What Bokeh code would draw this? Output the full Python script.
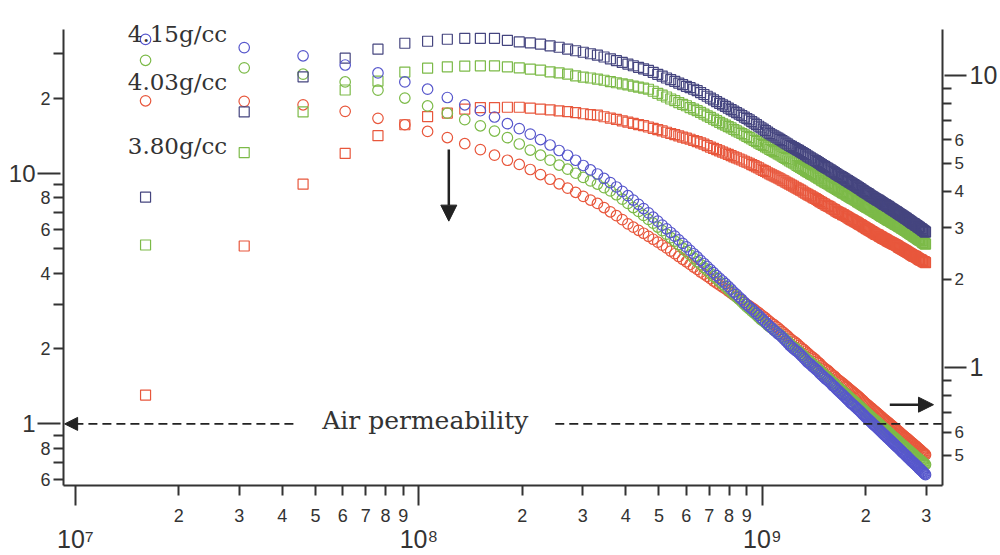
from bokeh.plotting import figure
from bokeh.models import LogAxis, FixedTicker, Label, Arrow, NormalHead, Range1d, LogScale
from bokeh.embed import file_html
from bokeh.resources import INLINE

# ---------------- data ----------------
freq_mhz = [
    16, 31, 46, 61, 76, 91, 106, 121, 136, 151,
    166, 181, 196, 211, 226, 241, 256, 271, 286, 301,
    316, 331, 346, 361, 376, 391, 406, 421, 436, 451,
    466, 481, 496, 511, 526, 541, 556, 571, 586, 601,
    616, 631, 646, 661, 676, 691, 706, 721, 736, 751,
    766, 781, 796, 811, 826, 841, 856, 871, 886, 901,
    916, 931, 946, 961, 976, 991, 1006, 1021, 1036, 1051,
    1066, 1081, 1096, 1111, 1126, 1141, 1156, 1171, 1186, 1201,
    1216, 1231, 1246, 1261, 1276, 1291, 1306, 1321, 1336, 1351,
    1366, 1381, 1396, 1411, 1426, 1441, 1456, 1471, 1486, 1501,
    1516, 1531, 1546, 1561, 1576, 1591, 1606, 1621, 1636, 1651,
    1666, 1681, 1696, 1711, 1726, 1741, 1756, 1771, 1786, 1801,
    1816, 1831, 1846, 1861, 1876, 1891, 1906, 1921, 1936, 1951,
    1966, 1981, 1996, 2011, 2026, 2041, 2056, 2071, 2086, 2101,
    2116, 2131, 2146, 2161, 2176, 2191, 2206, 2221, 2236, 2251,
    2266, 2281, 2296, 2311, 2326, 2341, 2356, 2371, 2386, 2401,
    2416, 2431, 2446, 2461, 2476, 2491, 2506, 2521, 2536, 2551,
    2566, 2581, 2596, 2611, 2626, 2641, 2656, 2671, 2686, 2701,
    2716, 2731, 2746, 2761, 2776, 2791, 2806, 2821, 2836, 2851,
    2866, 2881, 2896, 2911, 2926, 2941, 2956, 2971, 2986]

# circles, left axis (mu')
mu_re_415 = [
    34.3, 31.8, 29.5, 27.1, 25.2, 23.2, 21.7, 20.1, 18.8, 17.8,
    16.8, 15.8, 15.1, 14.36, 13.66, 12.99, 12.35, 11.82, 11.29, 10.76,
    10.33, 9.95, 9.55, 9.19, 8.83, 8.48, 8.15, 7.83, 7.53, 7.24,
    6.96, 6.69, 6.45, 6.22, 6.01, 5.81, 5.62, 5.43, 5.26, 5.09,
    4.93, 4.78, 4.64, 4.50, 4.37, 4.25, 4.13, 4.02, 3.91, 3.81,
    3.72, 3.63, 3.54, 3.45, 3.36, 3.29, 3.21, 3.14, 3.06, 2.99,
    2.93, 2.88, 2.82, 2.76, 2.71, 2.65, 2.60, 2.55, 2.50, 2.45,
    2.41, 2.37, 2.33, 2.29, 2.26, 2.22, 2.18, 2.14, 2.10, 2.06,
    2.03, 2.00, 1.97, 1.95, 1.92, 1.89, 1.86, 1.83, 1.80, 1.77,
    1.75, 1.73, 1.70, 1.68, 1.66, 1.64, 1.62, 1.59, 1.57, 1.55,
    1.53, 1.51, 1.50, 1.48, 1.46, 1.44, 1.42, 1.41, 1.39, 1.37,
    1.355, 1.34, 1.325, 1.31, 1.295, 1.28, 1.265, 1.25, 1.235, 1.22,
    1.208, 1.196, 1.185, 1.173, 1.161, 1.149, 1.138, 1.126, 1.114, 1.102,
    1.09, 1.079, 1.067, 1.057, 1.047, 1.037, 1.028, 1.018, 1.008, 0.998,
    0.989, 0.981, 0.972, 0.964, 0.955, 0.946, 0.938, 0.929, 0.921, 0.912,
    0.905, 0.897, 0.89, 0.882, 0.875, 0.868, 0.86, 0.853, 0.845, 0.838,
    0.832, 0.825, 0.819, 0.812, 0.806, 0.8, 0.793, 0.787, 0.78, 0.774,
    0.768, 0.763, 0.757, 0.751, 0.746, 0.74, 0.734, 0.728, 0.723, 0.717,
    0.712, 0.707, 0.702, 0.697, 0.693, 0.688, 0.683, 0.678, 0.673, 0.668,
    0.663, 0.659, 0.654, 0.65, 0.645, 0.641, 0.636, 0.632, 0.627]

mu_re_403 = [
    28.3, 26.4, 24.9, 23.2, 21.5, 20.0, 18.6, 17.4, 16.4, 15.5,
    14.77, 13.9, 13.11, 12.4, 11.83, 11.3, 10.8, 10.4, 10.02, 9.64,
    9.34, 9.07, 8.78, 8.52, 8.22, 7.89, 7.59, 7.31, 7.05, 6.80,
    6.55, 6.33, 6.11, 5.91, 5.72, 5.54, 5.37, 5.20, 5.03, 4.88,
    4.73, 4.59, 4.45, 4.33, 4.21, 4.10, 3.99, 3.88, 3.79, 3.69,
    3.61, 3.53, 3.44, 3.36, 3.28, 3.21, 3.14, 3.07, 3.00, 2.93,
    2.88, 2.82, 2.77, 2.72, 2.66, 2.61, 2.57, 2.53, 2.48, 2.44,
    2.41, 2.37, 2.34, 2.30, 2.27, 2.23, 2.20, 2.16, 2.13, 2.09,
    2.06, 2.03, 2.01, 1.98, 1.95, 1.92, 1.89, 1.87, 1.84, 1.81,
    1.79, 1.77, 1.74, 1.72, 1.70, 1.68, 1.66, 1.63, 1.61, 1.59,
    1.57, 1.55, 1.54, 1.52, 1.50, 1.48, 1.46, 1.45, 1.43, 1.41,
    1.396, 1.382, 1.368, 1.354, 1.34, 1.326, 1.312, 1.298, 1.284, 1.27,
    1.258, 1.247, 1.235, 1.224, 1.212, 1.2, 1.189, 1.177, 1.165, 1.154,
    1.142, 1.131, 1.119, 1.109, 1.099, 1.089, 1.079, 1.07, 1.06, 1.05,
    1.042, 1.033, 1.025, 1.016, 1.008, 0.999, 0.991, 0.982, 0.974, 0.965,
    0.958, 0.95, 0.943, 0.935, 0.928, 0.921, 0.913, 0.906, 0.898, 0.891,
    0.885, 0.878, 0.872, 0.865, 0.859, 0.853, 0.846, 0.84, 0.833, 0.827,
    0.822, 0.816, 0.811, 0.805, 0.8, 0.795, 0.789, 0.784, 0.778, 0.773,
    0.768, 0.763, 0.759, 0.754, 0.749, 0.744, 0.739, 0.735, 0.73, 0.725,
    0.721, 0.717, 0.713, 0.709, 0.705, 0.7, 0.696, 0.692, 0.688]

mu_re_380 = [
    19.5, 19.4, 18.8, 17.7, 16.6, 15.65, 14.71, 13.91, 13.15, 12.45,
    11.83, 11.29, 10.86, 10.37, 9.90, 9.48, 9.09, 8.74, 8.41, 8.10,
    7.83, 7.59, 7.31, 7.03, 6.78, 6.54, 6.29, 6.10, 5.93, 5.77,
    5.61, 5.46, 5.32, 5.17, 5.04, 4.90, 4.78, 4.66, 4.54, 4.44,
    4.33, 4.23, 4.14, 4.04, 3.96, 3.88, 3.80, 3.72, 3.65, 3.58,
    3.52, 3.46, 3.39, 3.33, 3.27, 3.22, 3.16, 3.11, 3.05, 3.00,
    2.96, 2.91, 2.87, 2.82, 2.78, 2.73, 2.69, 2.65, 2.60, 2.56,
    2.52, 2.49, 2.45, 2.42, 2.38, 2.34, 2.31, 2.27, 2.24, 2.20,
    2.17, 2.14, 2.12, 2.09, 2.06, 2.03, 2.00, 1.98, 1.95, 1.92,
    1.90, 1.87, 1.85, 1.83, 1.81, 1.78, 1.76, 1.74, 1.71, 1.69,
    1.67, 1.65, 1.64, 1.62, 1.60, 1.58, 1.56, 1.55, 1.53, 1.51,
    1.496, 1.482, 1.468, 1.454, 1.44, 1.426, 1.412, 1.398, 1.384, 1.37,
    1.358, 1.345, 1.333, 1.321, 1.308, 1.296, 1.284, 1.272, 1.259, 1.247,
    1.235, 1.222, 1.21, 1.2, 1.19, 1.18, 1.17, 1.16, 1.15, 1.14,
    1.131, 1.122, 1.113, 1.104, 1.095, 1.086, 1.077, 1.068, 1.059, 1.05,
    1.043, 1.035, 1.028, 1.02, 1.013, 1.005, 0.998, 0.99, 0.983, 0.975,
    0.968, 0.962, 0.955, 0.948, 0.942, 0.935, 0.928, 0.921, 0.915, 0.908,
    0.902, 0.896, 0.89, 0.884, 0.879, 0.873, 0.867, 0.861, 0.855, 0.849,
    0.844, 0.839, 0.833, 0.828, 0.823, 0.818, 0.813, 0.807, 0.802, 0.797,
    0.792, 0.787, 0.782, 0.777, 0.772, 0.768, 0.763, 0.758, 0.753]

# squares, right axis (mu'')
mu_im_415 = [
    3.82, 7.48, 9.85, 11.42, 12.26, 12.85, 13.05, 13.26, 13.36, 13.36,
    13.36, 13.15, 12.98, 12.88, 12.75, 12.58, 12.45, 12.27, 12.11, 11.97,
    11.83, 11.70, 11.53, 11.36, 11.20, 11.05, 10.90, 10.76, 10.63, 10.50,
    10.37, 10.22, 10.06, 9.92, 9.77, 9.64, 9.51, 9.39, 9.27, 9.15,
    9.05, 8.94, 8.84, 8.71, 8.58, 8.46, 8.34, 8.22, 8.11, 8.00,
    7.90, 7.81, 7.71, 7.62, 7.52, 7.44, 7.35, 7.27, 7.18, 7.10,
    7.02, 6.93, 6.85, 6.77, 6.68, 6.60, 6.53, 6.45, 6.38, 6.30,
    6.24, 6.19, 6.13, 6.08, 6.02, 5.96, 5.91, 5.85, 5.80, 5.74,
    5.70, 5.65, 5.61, 5.56, 5.52, 5.47, 5.43, 5.38, 5.34, 5.29,
    5.25, 5.21, 5.17, 5.13, 5.10, 5.06, 5.02, 4.98, 4.94, 4.90,
    4.87, 4.83, 4.80, 4.77, 4.74, 4.70, 4.67, 4.64, 4.60, 4.57,
    4.54, 4.51, 4.49, 4.46, 4.43, 4.40, 4.37, 4.35, 4.32, 4.29,
    4.27, 4.24, 4.22, 4.19, 4.17, 4.14, 4.12, 4.09, 4.07, 4.04,
    4.02, 3.99, 3.97, 3.95, 3.93, 3.91, 3.88, 3.86, 3.84, 3.82,
    3.80, 3.78, 3.76, 3.74, 3.73, 3.71, 3.69, 3.67, 3.65, 3.63,
    3.61, 3.60, 3.58, 3.56, 3.55, 3.53, 3.51, 3.49, 3.48, 3.46,
    3.44, 3.43, 3.41, 3.40, 3.38, 3.36, 3.35, 3.33, 3.32, 3.30,
    3.29, 3.27, 3.26, 3.24, 3.23, 3.21, 3.20, 3.18, 3.17, 3.15,
    3.14, 3.12, 3.11, 3.10, 3.09, 3.07, 3.06, 3.05, 3.03, 3.02,
    3.01, 2.99, 2.98, 2.97, 2.95, 2.94, 2.93, 2.91, 2.90]

mu_im_403 = [
    2.62, 5.43, 7.48, 8.89, 9.54, 10.24, 10.56, 10.67, 10.73, 10.75,
    10.75, 10.67, 10.59, 10.48, 10.40, 10.26, 10.18, 10.08, 9.94, 9.84,
    9.77, 9.69, 9.60, 9.50, 9.41, 9.33, 9.25, 9.17, 9.09, 9.02,
    8.94, 8.80, 8.66, 8.53, 8.41, 8.28, 8.17, 8.05, 7.94, 7.85,
    7.74, 7.65, 7.55, 7.45, 7.35, 7.25, 7.16, 7.07, 6.98, 6.89,
    6.81, 6.74, 6.66, 6.59, 6.51, 6.44, 6.37, 6.31, 6.24, 6.17,
    6.11, 6.04, 5.98, 5.92, 5.85, 5.79, 5.74, 5.68, 5.63, 5.57,
    5.52, 5.47, 5.42, 5.37, 5.33, 5.28, 5.23, 5.18, 5.13, 5.08,
    5.04, 5.00, 4.96, 4.91, 4.87, 4.83, 4.79, 4.75, 4.71, 4.67,
    4.64, 4.60, 4.57, 4.54, 4.51, 4.47, 4.44, 4.41, 4.37, 4.34,
    4.31, 4.28, 4.26, 4.23, 4.20, 4.17, 4.14, 4.12, 4.09, 4.06,
    4.04, 4.01, 3.99, 3.96, 3.94, 3.92, 3.89, 3.87, 3.84, 3.82,
    3.80, 3.78, 3.76, 3.74, 3.72, 3.69, 3.67, 3.65, 3.63, 3.61,
    3.59, 3.57, 3.55, 3.53, 3.52, 3.50, 3.48, 3.46, 3.45, 3.43,
    3.41, 3.40, 3.38, 3.36, 3.35, 3.33, 3.31, 3.29, 3.28, 3.26,
    3.25, 3.23, 3.22, 3.20, 3.19, 3.18, 3.16, 3.15, 3.13, 3.12,
    3.11, 3.09, 3.08, 3.07, 3.06, 3.04, 3.03, 3.02, 3.00, 2.99,
    2.98, 2.96, 2.95, 2.94, 2.93, 2.91, 2.90, 2.89, 2.87, 2.86,
    2.85, 2.84, 2.82, 2.81, 2.80, 2.79, 2.78, 2.76, 2.75, 2.74,
    2.73, 2.72, 2.71, 2.70, 2.68, 2.67, 2.66, 2.65, 2.64]

mu_im_380 = [
    0.803, 2.60, 4.23, 5.39, 6.20, 6.76, 7.21, 7.41, 7.64, 7.74,
    7.74, 7.76, 7.76, 7.70, 7.64, 7.60, 7.54, 7.50, 7.44, 7.37,
    7.32, 7.29, 7.20, 7.12, 7.05, 6.97, 6.90, 6.83, 6.77, 6.71,
    6.64, 6.57, 6.50, 6.44, 6.37, 6.31, 6.25, 6.19, 6.13, 6.08,
    6.03, 5.97, 5.92, 5.86, 5.80, 5.73, 5.67, 5.61, 5.56, 5.50,
    5.45, 5.40, 5.35, 5.30, 5.25, 5.21, 5.16, 5.12, 5.07, 5.03,
    4.99, 4.94, 4.90, 4.85, 4.81, 4.76, 4.72, 4.68, 4.63, 4.59,
    4.55, 4.52, 4.48, 4.45, 4.41, 4.37, 4.34, 4.30, 4.27, 4.23,
    4.20, 4.17, 4.13, 4.10, 4.07, 4.04, 4.01, 3.97, 3.94, 3.91,
    3.88, 3.86, 3.83, 3.80, 3.78, 3.75, 3.72, 3.69, 3.67, 3.64,
    3.62, 3.59, 3.57, 3.55, 3.53, 3.50, 3.48, 3.46, 3.43, 3.41,
    3.39, 3.37, 3.36, 3.33, 3.32, 3.30, 3.28, 3.26, 3.24, 3.22,
    3.20, 3.19, 3.17, 3.15, 3.14, 3.12, 3.10, 3.08, 3.07, 3.05,
    3.03, 3.02, 3.00, 2.98, 2.97, 2.95, 2.94, 2.92, 2.91, 2.89,
    2.88, 2.86, 2.85, 2.84, 2.83, 2.81, 2.80, 2.79, 2.77, 2.76,
    2.75, 2.74, 2.73, 2.71, 2.70, 2.69, 2.68, 2.67, 2.66, 2.65,
    2.64, 2.63, 2.62, 2.61, 2.60, 2.58, 2.57, 2.56, 2.55, 2.54,
    2.53, 2.52, 2.51, 2.50, 2.49, 2.48, 2.47, 2.46, 2.45, 2.44,
    2.43, 2.42, 2.41, 2.40, 2.40, 2.39, 2.38, 2.37, 2.36, 2.35,
    2.34, 2.33, 2.33, 2.32, 2.31, 2.30, 2.30, 2.29, 2.28]

density_labels = ["4.15g/cc", "4.03g/cc", "3.80g/cc"]
air_permeability = 1.0

# tick positions and labels
x_sub_ticks = [2e7, 3e7, 4e7, 5e7, 6e7, 7e7, 8e7, 9e7,
               2e8, 3e8, 4e8, 5e8, 6e8, 7e8, 8e8, 9e8, 2e9, 3e9]
x_sub_labels = ["2", "3", "4", "5", "6", "7", "8", "9",
                "2", "3", "4", "5", "6", "7", "8", "9", "2", "3"]
x_decades = [1e7, 1e8, 1e9]
x_decade_labels = ["10\u2077", "10\u2078", "10\u2079"]

left_sub_ticks = [20.0, 8.0, 6.0, 4.0, 2.0, 0.8, 0.6]
left_sub_labels = ["2", "8", "6", "4", "2", "8", "6"]
left_minor = [30.0, 9.0, 7.0, 5.0, 3.0, 0.9, 0.7]
left_major = [10.0, 1.0]
left_major_labels = ["10", "1"]

right_sub_ticks = [6.0, 5.0, 4.0, 3.0, 2.0, 0.6, 0.5]
right_sub_labels = ["6", "5", "4", "3", "2", "6", "5"]
right_minor = [9.0, 8.0, 7.0, 0.9, 0.8, 0.7]
right_major = [10.0, 1.0]
right_major_labels = ["10", "1"]

# ---------------- figure ----------------
AX = "#333333"
TXT = "#333333"
BLUE = "#5757cc"
NAVY = "#45457f"
GREEN = "#7cba48"
RED = "#e8573c"

LEFT_LO, LEFT_AX_TOP, LEFT_HI = 0.5675, 37.6, 46.84
RIGHT_LO, RIGHT_AX_TOP, RIGHT_HI = 0.3937, 14.34, 17.30

x_hz = [f * 1e6 for f in freq_mhz]

p = figure(width=1000, height=555, x_axis_type="log", y_axis_type="log",
           x_range=Range1d(9.23e6, 3.346e9), y_range=Range1d(LEFT_LO, LEFT_HI),
           output_backend="svg", toolbar_location=None,
           min_border_left=63, min_border_right=54, min_border_top=5,
           min_border_bottom=67)
p.extra_y_ranges = {"right": Range1d(RIGHT_LO, RIGHT_HI)}
p.extra_y_scales = {"right": LogScale()}
p.outline_line_color = None
p.grid.visible = False
p.background_fill_color = "white"
p.border_fill_color = "white"


def style(ax, size):
    ax.axis_line_color = AX
    ax.axis_line_width = 2
    ax.major_tick_line_color = AX
    ax.major_tick_line_width = 2
    ax.minor_tick_line_color = AX
    ax.minor_tick_line_width = 2
    ax.major_label_text_font = "Liberation Sans"
    ax.major_label_text_font_size = size
    ax.major_label_text_color = TXT


# bottom (inner): sub-decade labels, long ticks at decades
xa = p.xaxis[0]
xa.ticker = FixedTicker(ticks=x_sub_ticks, minor_ticks=x_decades)
xa.major_label_overrides = dict(zip(x_sub_ticks, x_sub_labels))
style(xa, "18px")
xa.major_tick_in = 0
xa.major_tick_out = 10
xa.minor_tick_in = 0
xa.minor_tick_out = 20
xa.major_label_standoff = 3

# bottom (outer): decade labels
xb = LogAxis(ticker=FixedTicker(ticks=x_decades, minor_ticks=[]))
xb.major_label_overrides = dict(zip(x_decades, x_decade_labels))
style(xb, "25px")
xb.axis_line_color = None
xb.major_tick_line_color = None
xb.minor_tick_line_color = None
xb.major_tick_in = 0
xb.major_tick_out = 0
xb.major_label_standoff = 0
p.add_layout(xb, "below")

# left (inner)
ya = p.yaxis[0]
ya.ticker = FixedTicker(ticks=left_sub_ticks, minor_ticks=left_minor)
ya.major_label_overrides = dict(zip(left_sub_ticks, left_sub_labels))
style(ya, "18px")
ya.bounds = (LEFT_LO, LEFT_AX_TOP)
ya.major_tick_in = 0
ya.major_tick_out = 10
ya.minor_tick_in = 0
ya.minor_tick_out = 10
ya.major_label_standoff = 3

# left (outer): 10 and 1
yb = LogAxis(ticker=FixedTicker(ticks=left_major, minor_ticks=[]))
yb.major_label_overrides = dict(zip(left_major, left_major_labels))
style(yb, "24px")
yb.bounds = (LEFT_LO, LEFT_AX_TOP)
yb.axis_line_color = None
yb.minor_tick_line_color = None
yb.major_tick_in = 23
yb.major_tick_out = 0
yb.major_label_standoff = 2
p.add_layout(yb, "left")

# right (inner)
yc = LogAxis(y_range_name="right",
             ticker=FixedTicker(ticks=right_sub_ticks, minor_ticks=right_minor))
yc.major_label_overrides = dict(zip(right_sub_ticks, right_sub_labels))
style(yc, "17px")
yc.bounds = (RIGHT_LO, RIGHT_AX_TOP)
yc.major_tick_in = 0
yc.major_tick_out = 9
yc.minor_tick_in = 0
yc.minor_tick_out = 9
yc.major_label_standoff = 3
p.add_layout(yc, "right")

# right (outer): 10 and 1
yd = LogAxis(y_range_name="right",
             ticker=FixedTicker(ticks=right_major, minor_ticks=[]))
yd.major_label_overrides = dict(zip(right_major, right_major_labels))
style(yd, "25px")
yd.bounds = (RIGHT_LO, RIGHT_AX_TOP)
yd.axis_line_color = None
yd.minor_tick_line_color = None
yd.major_tick_in = 22
yd.major_tick_out = 0
yd.major_label_standoff = 3
p.add_layout(yd, "right")

# ---------------- data marks ----------------
for mu_re, mu_im, c_circ, c_sq in [(mu_re_380, mu_im_380, RED, RED),
                                   (mu_re_403, mu_im_403, GREEN, GREEN),
                                   (mu_re_415, mu_im_415, BLUE, NAVY)]:
    p.scatter(x_hz, mu_im, marker="square", size=10, fill_color=None,
              line_color=c_sq, line_width=1.2, y_range_name="right")
    p.scatter(x_hz, mu_re, marker="circle", size=10.5, fill_color=None,
              line_color=c_circ, line_width=1.2)

# ---------------- annotations ----------------
DARK = "#222222"
p.line([9.93e6, 4.4e7], [air_permeability, air_permeability],
       line_dash="9 5", line_width=1.6, line_color=DARK)
p.line([2.495e8, 3.33e9], [air_permeability, air_permeability],
       line_dash="9 5", line_width=1.6, line_color=DARK)

p.add_layout(Label(x=1.044e8, y=1.028, text="Air permeability",
                   text_font="DejaVu Serif", text_font_size="25px",
                   text_color=TXT, text_align="center",
                   text_baseline="alphabetic"))

for txt, yv in zip(density_labels, [36.17, 23.11, 12.83]):
    p.add_layout(Label(x=1.42e7, y=yv, text=txt, text_font="DejaVu Serif",
                       text_font_size="23px", text_color=TXT,
                       text_baseline="alphabetic"))

# left arrowhead at mu = 1
p.add_layout(Arrow(end=NormalHead(size=13, fill_color=DARK, line_color=DARK),
                   x_start=1.0e7, y_start=air_permeability,
                   x_end=9.3e6, y_end=air_permeability,
                   line_color=DARK, line_width=2))
# right arrow
p.add_layout(Arrow(end=NormalHead(size=15, fill_color=DARK, line_color=DARK),
                   x_start=2.35e9, y_start=1.193, x_end=3.15e9, y_end=1.193,
                   line_color=DARK, line_width=2.5))
# down arrow
p.add_layout(Arrow(end=NormalHead(size=16, fill_color=DARK, line_color=DARK),
                   x_start=1.222e8, y_start=12.45, x_end=1.222e8, y_end=6.45,
                   line_color=DARK, line_width=2.5))

open("out.html", "w").write(file_html(p, INLINE))
